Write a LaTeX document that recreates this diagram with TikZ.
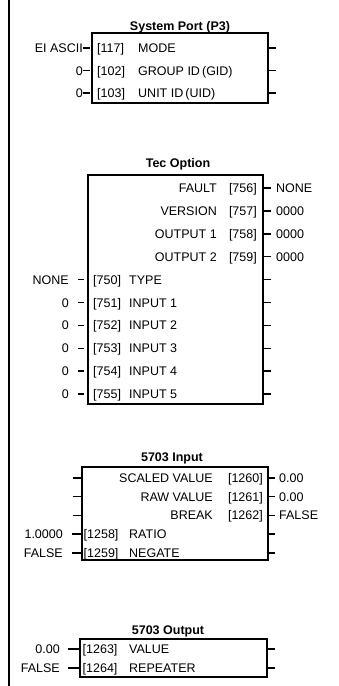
\documentclass[tikz,border=0pt]{standalone}
\usepackage{fontspec}
\setmainfont{Liberation Sans}
\begin{document}
\begin{tikzpicture}[x=1pt, y=-1pt,
        every node/.style={inner sep=0pt, font=\fontsize{12.5}{14}\selectfont},
        blk/.style={draw, line width=1.8pt},
        ttl/.style={anchor=base, font=\fontsize{12.5}{14}\selectfont\bfseries},
        stub/.style={line width=1.5pt}]
        \useasboundingbox (0,0) rectangle (338,686);
        \draw[line width=2pt] (8.5,0) -- (8.5,686);

        % System Port (P3)
        \node[ttl] (sptitle) at (180,30) {System Port (P3)};
        \node[blk, minimum width=176pt, minimum height=70pt] (sp) at (180,68) {};
        \foreach \num/\name/\val [count=\i from 0] in {117/MODE/EI ASCII, 102/GROUP ID\,(GID)/0, 103/UNIT ID\,(UID)/0} {
            \coordinate (sprow\i) at (0,48+22.5*\i);
            \node[anchor=base west] (spnum\i) at (97,52.5+22.5*\i) {[\num]};
            \node[anchor=base west] (spname\i) at (138,52.5+22.5*\i) {\name};
            \node[anchor=base east] (spval\i) at (83,52.5+22.5*\i) {\val};
            \draw[stub] ([xshift=-8pt]sp.west |- sprow\i) -- ([xshift=-1pt]sp.west |- sprow\i);
            \draw[stub] (sp.east |- sprow\i) -- ++(7,0);
        }

        % Tec Option
        \node[ttl] (tectitle) at (178,167) {Tec Option};
        \node[blk, minimum width=175pt, minimum height=229pt] (tec) at (175.5,289.5) {};
        \foreach \num/\name/\val [count=\i from 0] in {756/FAULT/NONE, 757/VERSION/0000, 758/OUTPUT 1/0000, 759/OUTPUT 2/0000} {
            \coordinate (tecrow\i) at (0,188+22.9*\i);
            \node[anchor=base east] (tecnum\i) at (257,192.5+22.9*\i) {[\num]};
            \node[anchor=base east] (tecname\i) at (217,192.5+22.9*\i) {\name};
            \node[anchor=base west] (tecval\i) at (276,192.5+22.9*\i) {\val};
            \draw[stub] (tec.east |- tecrow\i) -- ++(7,0);
        }
        \foreach \num/\name/\val [count=\i from 4] in {750/TYPE/NONE, 751/INPUT 1/0, 752/INPUT 2/0, 753/INPUT 3/0, 754/INPUT 4/0, 755/INPUT 5/0} {
            \coordinate (tecrow\i) at (0,188+22.9*\i);
            \node[anchor=base west] (tecnum\i) at (93,192.5+22.9*\i) {[\num]};
            \node[anchor=base west] (tecname\i) at (129,192.5+22.9*\i) {\name};
            \node[anchor=base east] (tecval\i) at (69,192.5+22.9*\i) {\val};
            \draw[stub] ([xshift=-9pt]tec.west |- tecrow\i) -- ([xshift=-3pt]tec.west |- tecrow\i);
            \draw[stub] (tec.east |- tecrow\i) -- ++(7,0);
        }

        % 5703 Input
        \node[ttl] (intitle) at (172,461) {5703 Input};
        \node[blk, minimum width=186pt, minimum height=93pt] (inp) at (175,513.5) {};
        \foreach \num/\name/\val [count=\i from 0] in {1260/SCALED VALUE/0.00, 1261/RAW VALUE/0.00, 1262/BREAK/FALSE} {
            \coordinate (inrow\i) at (0,478+18.7*\i);
            \node[anchor=base east] (innum\i) at (263,482.5+18.7*\i) {[\num]};
            \node[anchor=base east] (inname\i) at (213,482.5+18.7*\i) {\name};
            \node[anchor=base west] (inval\i) at (279,482.5+18.7*\i) {\val};
            \draw[stub] ([xshift=-8pt]inp.west |- inrow\i) -- (inp.west |- inrow\i);
            \draw[stub] (inp.east |- inrow\i) -- ++(6,0);
        }
        \foreach \num/\name/\val [count=\i from 3] in {1258/RATIO/1.0000, 1259/NEGATE/FALSE} {
            \coordinate (inrow\i) at (0,478+18.7*\i);
            \node[anchor=base west] (innum\i) at (83.5,482.5+18.7*\i) {[\num]};
            \node[anchor=base west] (inname\i) at (129,482.5+18.7*\i) {\name};
            \node[anchor=base east] (inval\i) at (63,482.5+18.7*\i) {\val};
            \draw[stub] ([xshift=-9pt]inp.west |- inrow\i) -- (inp.west |- inrow\i);
            \draw[stub] (inp.east |- inrow\i) -- ++(6,0);
        }

        % 5703 Output
        \node[ttl] (outtitle) at (168,634) {5703 Output};
        \node[blk, minimum width=187pt, minimum height=38pt] (outp) at (173.5,658) {};
        \foreach \num/\name/\val [count=\i from 0] in {1263/VALUE/0.00, 1264/REPEATER/FALSE} {
            \coordinate (outrow\i) at (0,649+19*\i);
            \node[anchor=base west] (outnum\i) at (82.5,653.5+19*\i) {[\num]};
            \node[anchor=base west] (outname\i) at (129,653.5+19*\i) {\name};
            \node[anchor=base east] (outval\i) at (60,653.5+19*\i) {\val};
            \draw[stub] ([xshift=-11pt]outp.west |- outrow\i) -- (outp.west |- outrow\i);
            \draw[stub] (outp.east |- outrow\i) -- ++(7,0);
        }
\end{tikzpicture}
\end{document}
